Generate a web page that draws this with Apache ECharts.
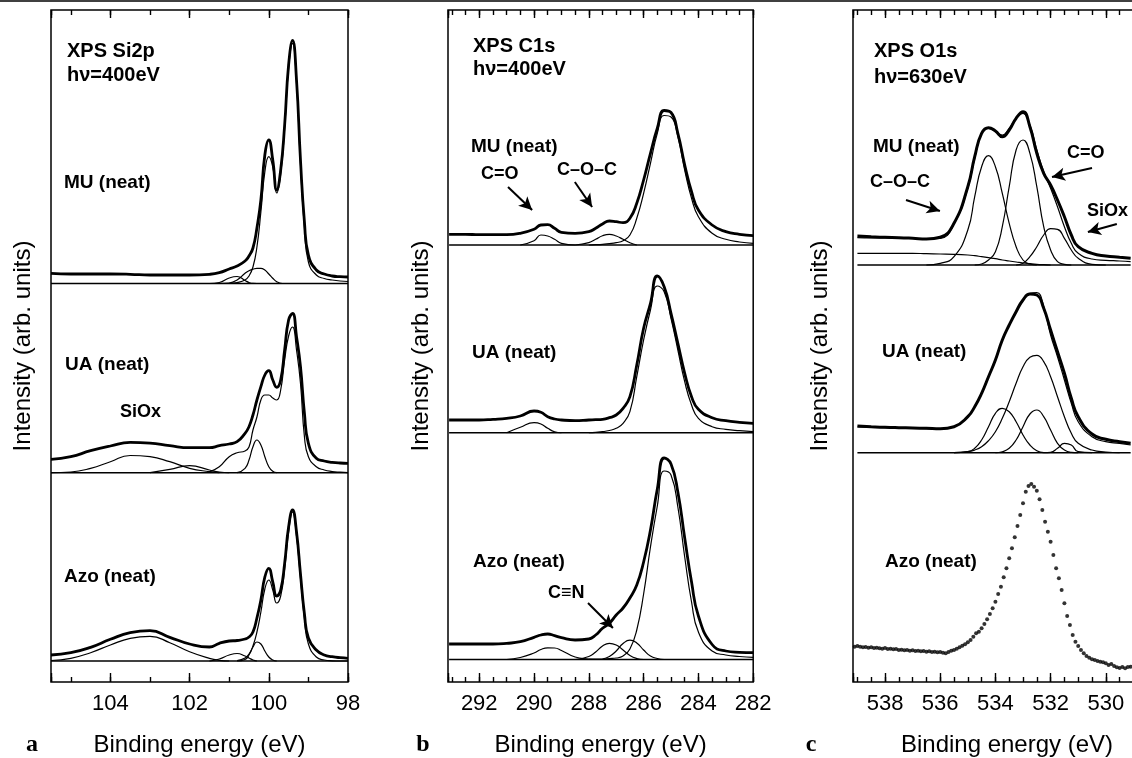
<!DOCTYPE html>
<html>
<head>
<meta charset="utf-8">
<title>XPS Si2p / C1s / O1s</title>
<script src="https://cdn.jsdelivr.net/npm/echarts@6/dist/echarts.min.js"></script>
<style>
  html, body { margin: 0; padding: 0; background: #fff; }
  #chart { width: 1132px; height: 758px; }
</style>
</head>
<body>
<div id="chart"></div>
<script>
// ---- panel a : Si2p (binding energy, eV) ----
var siE = [105.5,105,104.5,104,103.5,103,102.5,102,101.5,101.25,101,100.8,100.6,100.5,100.4,100.3,100.2,100.1,100,99.9,99.8,99.7,99.6,99.5,99.4,99.3,99.2,99.1,99,98.8,98.6,98.4,98.2,98];
var siBase = [398.5, 209.3, 21];
var siMuEnv = [408.7,408,408,408,407.7,407,407,407,407.7,409.3,413,416,421,426,434,454,482,527,542,522,492,512,557,617,641.5,602,522,460,427,412,408,406,405.3,405];
var siMuBulk = [null,null,null,null,null,null,null,null,null,null,398.7,399.5,402,406,415,435,470,510,525.3,515,489,508,554,614,638.7,599,518,454,420,407,403.5,402,401,400.5];
var siMuSub = [null,null,null,null,null,null,null,null,null,398.5,399,402,408.7,411.3,412.7,413.7,413.7,412,408,403.7,400.3,398.7,398.5,null,null,null,null,null,null,null,null,null,null,null];
var siMuSub2 = [null,null,null,null,null,null,null,null,398.5,399.5,404,405.5,401.5,399.5,398.6,398.5,null,null,null,null,null,null,null,null,null,null,null,null,null,null,null,null,null,null];
var siUaEnv = [222.7,225.3,231.3,236,239.6,238.8,236.3,234.3,234.3,236.3,238,240.3,248.7,255.3,267,282,295.3,307,311.3,302,294.7,302,332,362,368.5,345.3,315.3,268.7,238.7,223.7,221,219.7,219,218.7];
var siUaSiox = [209.3,210,213.7,220.3,226.5,225.3,220.3,213.7,210.3,209.3,null,null,null,null,null,null,null,null,null,null,null,null,null,null,null,null,null,null,null,null,null,null,null,null];
var siUaSub102 = [null,null,null,null,null,209.3,212.7,216.3,212,210,209.3,null,null,null,null,null,null,null,null,null,null,null,null,null,null,null,null,null,null,null,null,null,null,null];
var siUaSub = [null,null,null,null,null,null,null,null,null,null,null,209.3,213.7,222,235.3,242,237,225.3,215.3,210.7,209.3,null,null,null,null,null,null,null,null,null,null,null,null,null];
var siUaBulk = [null,null,null,null,null,null,null,null,210.3,215.3,225.3,229.3,231,235,252,265,282,287,287,284,282,292,322,346,355,332,298.7,245.3,225.3,215.3,212,210.5,209.8,209.3];
var siAzoEnv = [27,29.3,34.7,42.7,49.3,51.3,44.7,38,35,38.7,41,41.5,43,45,50,64,82,105,113.7,100,86,92,118.7,155,172,150,108,68,44,32,27,25.3,24.3,23.7];
var siAzoSiox = [21.5,23.7,29.3,37,43.7,45.7,39.3,30.3,23.7,21.7,21,null,null,null,null,null,null,null,null,null,null,null,null,null,null,null,null,null,null,null,null,null,null,null];
var siAzoSub2 = [null,null,null,null,null,null,null,null,21,23,27,28.5,26,24,22,21,null,null,null,null,null,null,null,null,null,null,null,null,null,null,null,null,null,null];
var siAzoSub = [null,null,null,null,null,null,null,null,null,null,null,21.5,24,28,35,40,38,31,25,22,21,null,null,null,null,null,null,null,null,null,null,null,null,null];
var siAzoBulk = [null,null,null,null,null,null,null,null,null,null,null,21,22.5,27,36,50,70,93,102,92,79,86,113,150,170,146,104,63,38,25,22,21.2,21,21];

// ---- panel b : C1s ----
var cE = [293.1,292.5,292,291.5,291,290.5,290,289.75,289.5,289.25,289,288.5,288,287.75,287.5,287.25,287,286.75,286.5,286.25,286,285.75,285.5,285.25,285,284.75,284.5,284.25,284,283.5,283,282.5,282];
var cBase = [437, 249.3, 22.5];
var cMuEnv = [447.7,447.7,447.3,447.3,447.3,448.7,452.7,457,457.3,453.7,449.7,448.7,450.3,453.7,458,461,460.3,459.3,463.7,478.7,502,528.7,553.7,571.5,569.5,548.7,517,490.3,472,457,450.3,447.7,446.3];
var cMuMain = [null,null,null,null,null,null,null,null,null,null,null,null,437,437.3,437.7,438.3,439.3,441.3,447,463.7,488.7,518.7,548.7,566.5,565,545.3,512,483.7,465.3,448.7,442.7,440,438.7];
var cMuCO = [null,null,null,null,null,437,441.3,447,446,442.7,438.7,437,null,null,null,null,null,null,null,null,null,null,null,null,null,null,null,null,null,null,null,null,null];
var cMuCOC = [null,null,null,null,null,null,null,null,null,null,null,437,439.3,442.7,446.3,447.7,446,442.7,439.3,437,null,null,null,null,null,null,null,null,null,null,null,null,null];
var cUaEnv = [262,262,262,262.7,263.7,266,271,269.7,265.3,263,262,261.3,262,262.3,262.7,264.3,267,273.7,285.3,317,353.7,378.7,406,395.3,368.7,338.7,308.7,285.3,272.7,264.3,261.3,259.7,258.7];
var cUaMain = [null,null,null,null,null,null,null,null,null,null,null,null,249.3,249.7,250.3,251.5,253.7,258.7,270.3,305.3,342,372,396,390.3,363.7,332,300.3,277,263.7,255.3,252.7,251.3,250.3];
var cUaCO = [null,null,null,null,249.3,254.7,259.3,258,253.7,250.3,249.3,null,null,null,null,null,null,null,null,null,null,null,null,null,null,null,null,null,null,null,null,null,null];
var cAzoEnv = [38,38,38,38,38.7,40.3,44.7,47,48,46.3,44.3,42,43,47,53.7,58.7,67,74,84,97,120,152,193,224,218,190,144,100,66,37.5,31,29.7,29.3];
var cAzoMain = [null,null,null,null,null,null,null,null,null,null,null,null,22.7,22.8,23,23.5,24,26,33,52,88,135,176,211,207,175,125,80,50,31,27,25.5,24.7];
var cAzoCO = [null,null,null,null,22.5,24.5,29,32.5,34.2,34,31.5,25,23,22.5,null,null,null,null,null,null,null,null,null,null,null,null,null,null,null,null,null,null,null];
var cAzoCN1 = [null,null,null,null,null,null,null,null,null,null,null,22.5,25.5,30,36,38.7,37,32,26.5,23.5,22.5,null,null,null,null,null,null,null,null,null,null,null,null];
var cAzoCN2 = [null,null,null,null,null,null,null,null,null,null,null,null,null,null,23,25.5,31,38.5,41.8,39,32,26,23.5,22.5,null,null,null,null,null,null,null,null,null];

// ---- panel c : O1s ----
var oE = [539,538.5,538,537.5,537,536.5,536,535.5,535,534.75,534.5,534.25,534,533.75,533.5,533.25,533,532.75,532.5,532.25,532,531.75,531.5,531.25,531,530.5,530,529.5,529.1];
var oBase = [417, 229.3];
var oMuData = [446,445.3,444.7,444.3,443.7,443,444.7,458.7,495.3,525.3,548.7,554.3,551,545.3,552,563.7,570.3,555.3,528.7,508.7,497,482,465.3,447,435.3,428.7,426,424.7,423.7];
var oMuFit = [444.3,444,444,443.7,443.7,443.3,443.7,458,493.7,523.7,548.7,553.7,550.3,547,553.7,563.7,568.7,557,532,510.3,493.7,475.3,455.3,438.7,428.7,423,421.7,421,420.3];
var oMuTail = [428.7,428.7,428.7,428.7,428.7,428.3,428,427.7,427,426.3,425.3,424.3,423.3,422,421,420,419,418.3,417.7,417.3,417,null,null,null,null,null,null,null,null];
var oMuCOC = [null,null,null,null,null,417,418.7,425.3,452,485.3,515.3,526.3,515.3,488.7,458.7,435.3,422,418,417,null,null,null,null,null,null,null,null,null,null];
var oMuCO = [null,null,null,null,null,null,null,null,null,417,418,422,430.3,455.3,495.3,532,542,528.7,495.3,455.3,432,420.3,417.7,417,null,null,null,null,null];
var oMuSiox = [null,null,null,null,null,null,null,null,null,null,null,null,null,null,null,417,418.7,425.3,435.3,447,453.3,452.7,443.7,432,423.7,417.7,417,null,null];
var oUaData = [256,255.3,254.7,254.3,254,253.7,253.3,255.3,265.3,275.3,288.7,305.3,322,342,357,370.3,382,388,387,373.7,352,330.3,308.7,283.7,265.3,248,242.7,240.3,238.7];
var oUaFit = [255,254.7,254.3,254,253.7,253.3,253,255,265.3,275.3,288.7,305.3,322,342,357,370.3,382,388.7,389.3,375.3,347,325.3,302,278.7,260.3,245.3,240.3,238.7,237];
var oUaBig = [null,null,null,null,null,null,null,229.3,230.3,232,235.3,241.3,250.3,263.7,280.3,298.7,315.3,324.7,326.7,320.3,305.3,285.3,265.3,248.7,238.7,232,230,229.3,null];
var oUaHigh = [null,null,null,null,null,null,null,229.3,230.3,233.7,242,255.3,268.7,273.7,270.3,260.3,247,237,231.3,229.3,null,null,null,null,null,null,null,null,null];
var oUaMid = [null,null,null,null,null,null,null,null,null,null,null,null,229.3,230.3,233.7,242,255.3,268,272,265.3,252,238.7,232,229.7,229.3,null,null,null,null];
var oUaLow = [null,null,null,null,null,null,null,null,null,null,null,null,null,null,null,null,null,null,null,229.3,229.7,233.7,238.7,237,230.3,229.3,null,null,null];
var oAzoE = [539.1,539,538.9,538.8,538.7,538.6,538.5,538.4,538.3,538.2,538.1,538,537.9,537.8,537.7,537.6,537.5,537.4,537.3,537.2,537.1,537,536.9,536.8,536.7,536.6,536.5,536.4,536.3,536.2,536.1,536,
  535.9,535.8,535.7,535.6,535.5,535.4,535.3,535.2,535.1,535,534.9,534.8,534.7,534.6,534.5,534.4,534.3,534.2,534.1,534,533.9,533.8,533.7,533.6,533.5,533.4,533.3,533.2,533.1,533,
  532.9,532.8,532.7,532.6,532.5,532.4,532.3,532.2,532.1,532,531.9,531.8,531.7,531.6,531.5,531.4,531.3,531.2,531.1,531,530.9,530.8,530.7,530.6,530.5,530.4,530.3,530.2,530.1,530,
  529.9,529.8,529.7,529.6,529.5,529.4,529.3,529.2,529.1];
var oAzoData = [35.3,36,35.3,34.7,35,34.3,34.7,34,34.3,33.7,33.3,34,33,33.3,32.7,33,32,32.3,31.7,32,31.3,31.7,31,31.3,30.7,31,30.3,30.7,30,30.3,29.7,30,
  29.3,28.7,30,31.3,32,33.3,34.7,36.3,37.7,39.7,42,45.3,48.7,50.3,53.7,58,62.7,68,73.7,80.3,88,95.3,104.7,113.7,123.7,133.7,144.7,156,167,178.7,
  190.3,196,198,195.3,191.3,182.7,172,160.3,150.3,140.3,127,113.7,103.7,92,78.7,66,57,47,40.3,36,32,28.7,26,24.3,22.7,22,21,20.3,19.7,18.7,
  17,18,16,14.7,14,15,13.7,15,15.3];

// arrows [fromE, fromI, toE, toI]
var arrowsC1s = [[290.95, 495, 290.07, 472], [288.51, 500, 287.88, 475]];
var arrowsCN = [[288.03, 79, 287.12, 54]];
var arrowsO1s = [[537.24, 482, 536.01, 471], [530.50, 514, 531.95, 505], [529.60, 458, 530.65, 450]];

var FONT = '"Liberation Sans", Arial, Helvetica, sans-serif';
var chart = echarts.init(document.getElementById('chart'));

function pairs(xs, ys) {
  var out = [];
  for (var i = 0; i < xs.length; i++) {
    if (ys[i] != null) out.push([xs[i], ys[i]]);
  }
  return out;
}

function curve(g, xs, ys, w) {
  return {
    type: 'line', xAxisIndex: g * 4, yAxisIndex: g,
    data: pairs(xs, ys), smooth: 0.5,
    symbol: 'none', silent: true, z: w > 2 ? 4 : 3,
    lineStyle: {color: '#000', width: w}
  };
}

function flat(g, xs, level) {
  return {
    type: 'line', xAxisIndex: g * 4, yAxisIndex: g,
    data: [[xs[0], level], [xs[xs.length - 1], level]],
    symbol: 'none', silent: true, z: 2,
    lineStyle: {color: '#000', width: 1.6}
  };
}

function arrows(list) {
  return {
    silent: true, symbol: ['none', 'arrow'], symbolSize: [10, 13],
    lineStyle: {color: '#000', width: 2, type: 'solid'},
    label: {show: false}, animation: false,
    data: list.map(function (a) { return [{coord: [a[0], a[1]]}, {coord: [a[2], a[3]]}]; })
  };
}

function xAxes(g, min, max, major, minor) {
  var fmt = function (v) {
    var k = v / major;
    return Math.abs(k - Math.round(k)) < 1e-6 ? String(Math.round(v)) : '';
  };
  var tick = function (len) { return {inside: true, length: len, lineStyle: {color: '#000', width: 1.4}}; };
  var base = function (pos, step, len) {
    return {
      gridIndex: g, type: 'value', position: pos, min: min, max: max, interval: step,
      inverse: true, axisLine: {show: false}, splitLine: {show: false},
      axisTick: tick(len), axisLabel: {show: false}
    };
  };
  var main = base('bottom', major, 9);
  main.axisLabel = {show: true, formatter: fmt, color: '#000', fontSize: 22, fontFamily: FONT, margin: 11};
  main.name = 'Binding energy (eV)';
  main.nameLocation = 'middle';
  main.nameGap = 51;
  main.nameTextStyle = {color: '#000', fontSize: 24, fontFamily: FONT};
  return [main, base('bottom', minor, 5), base('top', major, 8), base('top', minor, 5)];
}

function yAxis(g, gap) {
  return {
    gridIndex: g, type: 'value', min: 0, max: 672,
    axisLine: {show: false}, axisTick: {show: false}, axisLabel: {show: false}, splitLine: {show: false},
    name: 'Intensity (arb. units)', nameLocation: 'middle', nameGap: gap,
    nameTextStyle: {color: '#000', fontSize: 24, fontFamily: FONT}
  };
}

function label(x, y, text, size) {
  return {
    type: 'text', x: x, y: y, silent: true,
    style: {text: text, fill: '#000', font: 'bold ' + size + 'px ' + FONT, verticalAlign: 'middle', align: 'left'}
  };
}

var gridBox = {show: true, borderColor: '#000', borderWidth: 1.5, top: 10, height: 672, outerBoundsMode: 'none', containLabel: false};

var series = [
  // a
  flat(0, siE, siBase[0]), flat(0, siE, siBase[1]), flat(0, siE, siBase[2]),
  curve(0, siE, siMuBulk, 1.2), curve(0, siE, siMuSub, 1.2), curve(0, siE, siMuSub2, 1.2),
  curve(0, siE, siUaSiox, 1.2), curve(0, siE, siUaSub102, 1.2), curve(0, siE, siUaSub, 1.2), curve(0, siE, siUaBulk, 1.2),
  curve(0, siE, siAzoSiox, 1.2), curve(0, siE, siAzoSub2, 1.2), curve(0, siE, siAzoSub, 1.2), curve(0, siE, siAzoBulk, 1.2),
  curve(0, siE, siMuEnv, 2.8), curve(0, siE, siUaEnv, 2.8), curve(0, siE, siAzoEnv, 2.8),
  // b
  flat(1, cE, cBase[0]), flat(1, cE, cBase[1]), flat(1, cE, cBase[2]),
  curve(1, cE, cMuMain, 1.2), curve(1, cE, cMuCO, 1.2), curve(1, cE, cMuCOC, 1.2),
  curve(1, cE, cUaMain, 1.2), curve(1, cE, cUaCO, 1.2),
  curve(1, cE, cAzoMain, 1.2), curve(1, cE, cAzoCO, 1.2), curve(1, cE, cAzoCN1, 1.2), curve(1, cE, cAzoCN2, 1.2),
  curve(1, cE, cMuEnv, 2.8), curve(1, cE, cUaEnv, 2.8), curve(1, cE, cAzoEnv, 2.8),
  // c
  flat(2, oE, oBase[0]), flat(2, oE, oBase[1]),
  curve(2, oE, oMuTail, 1.2), curve(2, oE, oMuCOC, 1.2), curve(2, oE, oMuCO, 1.2), curve(2, oE, oMuSiox, 1.2),
  curve(2, oE, oUaBig, 1.2), curve(2, oE, oUaHigh, 1.2), curve(2, oE, oUaMid, 1.2), curve(2, oE, oUaLow, 1.2),
  curve(2, oE, oMuFit, 1.2), curve(2, oE, oUaFit, 1.2),
  curve(2, oE, oMuData, 3), curve(2, oE, oUaData, 3),
  {
    type: 'scatter', xAxisIndex: 8, yAxisIndex: 2, silent: true, z: 5,
    data: pairs(oAzoE, oAzoData), symbol: 'circle', symbolSize: 4,
    itemStyle: {color: '#000'}
  }
];
series[29].markLine = arrows(arrowsC1s);
series[31].markLine = arrows(arrowsCN);
series[44].markLine = arrows(arrowsO1s);

var option = {
  animation: false,
  backgroundColor: '#fff',
  grid: [
    Object.assign({left: 51, width: 297}, gridBox),
    Object.assign({left: 448, width: 305.2}, gridBox),
    Object.assign({left: 853, width: 308}, gridBox)
  ],
  xAxis: [].concat(
    xAxes(0, 98, 105.5, 2, 1),
    xAxes(1, 282, 293.14, 2, 0.5),
    xAxes(2, 528, 539.16, 2, 0.5)
  ),
  yAxis: [yAxis(0, 16), yAxis(1, 15), yAxis(2, 21)],
  series: series,
  graphic: [
    {type: 'line', silent: true, shape: {x1: 0, y1: 1, x2: 1132, y2: 1}, style: {stroke: '#000', lineWidth: 1.5}},
    // a
    label(67, 51, 'XPS Si2p', 20), label(67, 75, 'hν=400eV', 20),
    label(64, 183, 'MU (neat)', 19), label(65, 365, 'UA (neat)', 19),
    label(120, 412, 'SiOx', 18), label(64, 577, 'Azo (neat)', 19),
    // b
    label(473, 46, 'XPS C1s', 20), label(473, 69, 'hν=400eV', 20),
    label(471, 147, 'MU (neat)', 19), label(481, 174, 'C=O', 18), label(557, 170, 'C–O–C', 18),
    label(472, 353, 'UA (neat)', 19), label(473, 562, 'Azo (neat)', 19), label(548, 593, 'C≡N', 18),
    // c
    label(874, 51, 'XPS O1s', 20), label(874, 77, 'hν=630eV', 20),
    label(873, 147, 'MU (neat)', 19), label(870, 182, 'C–O–C', 18),
    label(1067, 153, 'C=O', 18), label(1087, 211, 'SiOx', 18),
    label(882, 352, 'UA (neat)', 19), label(885, 562, 'Azo (neat)', 19),
    // panel letters
    {type: 'text', x: 32, y: 745, silent: true, style: {text: 'a', fill: '#000', font: 'bold 24px "Liberation Serif", "Times New Roman", serif', align: 'center', verticalAlign: 'middle'}},
    {type: 'text', x: 423, y: 745, silent: true, style: {text: 'b', fill: '#000', font: 'bold 24px "Liberation Serif", "Times New Roman", serif', align: 'center', verticalAlign: 'middle'}},
    {type: 'text', x: 811, y: 745, silent: true, style: {text: 'c', fill: '#000', font: 'bold 24px "Liberation Serif", "Times New Roman", serif', align: 'center', verticalAlign: 'middle'}}
  ]
};

chart.setOption(option);
</script>
</body>
</html>
